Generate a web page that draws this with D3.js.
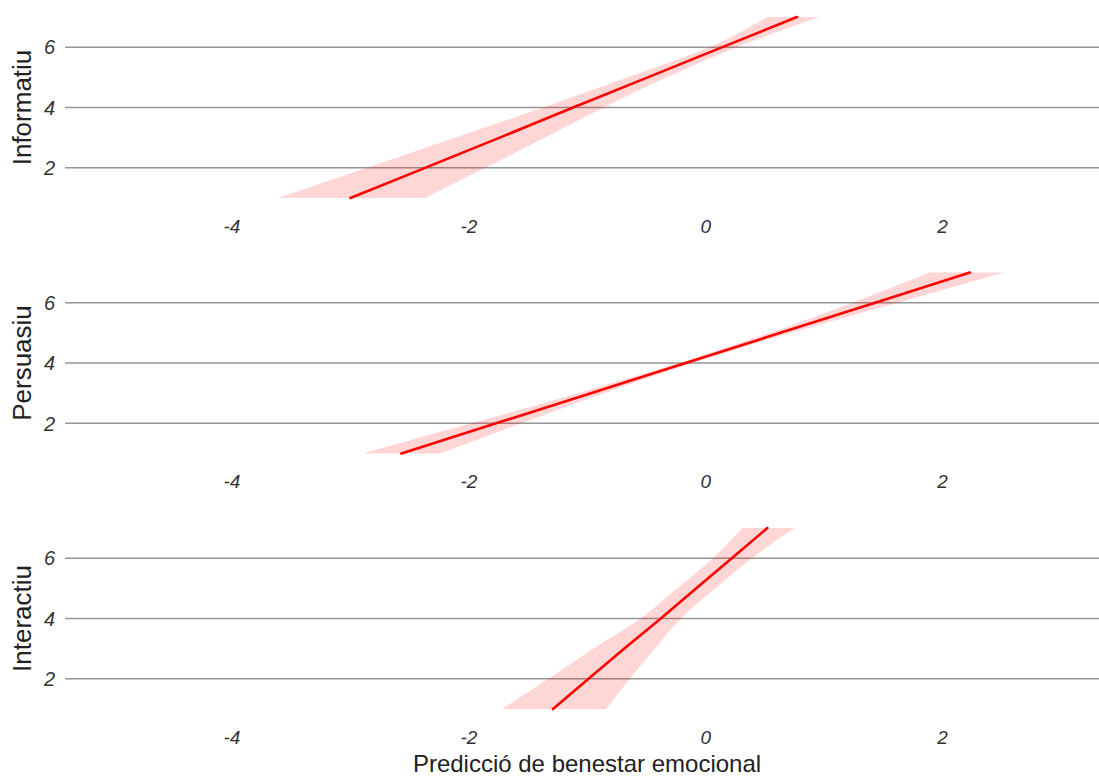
<!DOCTYPE html>
<html>
<head>
<meta charset="utf-8">
<script src="https://cdn.jsdelivr.net/npm/d3@7"></script>
<style>
  html, body { margin: 0; padding: 0; background: #ffffff; }
  svg { display: block; font-family: "Liberation Sans", Arial, sans-serif; }
</style>
</head>
<body>
<svg id="chart" width="1099" height="778"></svg>
<script>
// Panels (one per communication style)
const categories = ["Informatiu", "Persuasiu", "Interactiu"];

// Rating levels along the vertical axis
const yLevels = [1, 2, 3, 4, 5, 6, 7];

// Fitted predicted wellbeing at each rating level, with confidence band
const fitInformatiu  = [-3.00, -2.37, -1.74, -1.12, -0.49, 0.14, 0.77];
const lowInformatiu  = [-3.61, -2.86, -2.12, -1.37, -0.66, 0.03, 0.52];
const highInformatiu = [-2.37, -1.86, -1.36, -0.86, -0.33, 0.26, 0.96];

const fitPersuasiu  = [-2.57, -1.77, -0.97, -0.17, 0.63, 1.43, 2.23];
const lowPersuasiu  = [-2.90, -1.98, -1.08, -0.23, 0.54, 1.24, 1.89];
const highPersuasiu = [-2.24, -1.56, -0.86, -0.11, 0.72, 1.62, 2.52];

const fitInteractiu  = [-1.29, -0.99, -0.69, -0.38, -0.08, 0.22, 0.52];
const lowInteractiu  = [-1.72, -1.33, -0.95, -0.55, -0.24, 0.06, 0.31];
const highInteractiu = [-0.84, -0.64, -0.43, -0.21, 0.08, 0.39, 0.75];

const xTicks = [-4, -2, 0, 2];
const yTicks = [2, 4, 6];
const xTitle = "Predicció de benestar emocional";

const series = [
  { name: categories[0], fit: fitInformatiu, low: lowInformatiu, high: highInformatiu },
  { name: categories[1], fit: fitPersuasiu,  low: lowPersuasiu,  high: highPersuasiu },
  { name: categories[2], fit: fitInteractiu, low: lowInteractiu, high: highInteractiu }
];

const svg = d3.select("#chart");

const plotLeft = 65, plotRight = 1099;
const panelTop0 = 17, panelStep = 255.5, panelH = 181;

const x = d3.scaleLinear().domain([-5.41, 3.32]).range([plotLeft, plotRight]);

series.forEach((s, i) => {
  const top = panelTop0 + i * panelStep;
  const y = d3.scaleLinear().domain([1, 7]).range([top + panelH, top]);
  const g = svg.append("g");

  // horizontal gridlines
  g.selectAll("line.grid")
    .data(yTicks)
    .join("line")
    .attr("class", "grid")
    .attr("x1", plotLeft).attr("x2", plotRight)
    .attr("y1", d => y(d)).attr("y2", d => y(d))
    .attr("stroke", "#969696")
    .attr("stroke-width", 1.5);

  // y tick labels
  g.selectAll("text.ytick")
    .data(yTicks)
    .join("text")
    .attr("class", "ytick")
    .attr("x", 55)
    .attr("y", d => y(d))
    .attr("dy", "0.36em")
    .attr("text-anchor", "end")
    .attr("font-size", 20)
    .attr("font-style", "italic")
    .attr("fill", "#333333")
    .text(d => d);

  // x tick labels
  g.selectAll("text.xtick")
    .data(xTicks)
    .join("text")
    .attr("class", "xtick")
    .attr("x", d => x(d))
    .attr("y", y(1) + 28)
    .attr("dy", "0.36em")
    .attr("text-anchor", "middle")
    .attr("font-size", 19)
    .attr("font-style", "italic")
    .attr("fill", "#333333")
    .text(d => d);

  // y axis title
  g.append("text")
    .attr("transform", `translate(31,${y(4)}) rotate(-90)`)
    .attr("text-anchor", "middle")
    .attr("font-size", 26)
    .attr("fill", "#222222")
    .text(s.name);

  const rows = yLevels.map((lv, k) => ({ lv, fit: s.fit[k], low: s.low[k], high: s.high[k] }));

  // confidence band
  const band = d3.area()
    .y(d => y(d.lv))
    .x0(d => x(d.low))
    .x1(d => x(d.high))
    .curve(d3.curveMonotoneY);

  g.append("path")
    .datum(rows)
    .attr("d", band)
    .attr("fill", "#ff0000")
    .attr("fill-opacity", 0.16);

  // fitted line
  const line = d3.line()
    .y(d => y(d.lv))
    .x(d => x(d.fit));

  g.append("path")
    .datum(rows)
    .attr("d", line)
    .attr("fill", "none")
    .attr("stroke", "#ff0000")
    .attr("stroke-width", 2.6)
    .attr("stroke-linecap", "round");
});

// x axis title
svg.append("text")
  .attr("x", 587)
  .attr("y", 772)
  .attr("text-anchor", "middle")
  .attr("font-size", 24)
  .attr("fill", "#222222")
  .text(xTitle);
</script>
</body>
</html>
